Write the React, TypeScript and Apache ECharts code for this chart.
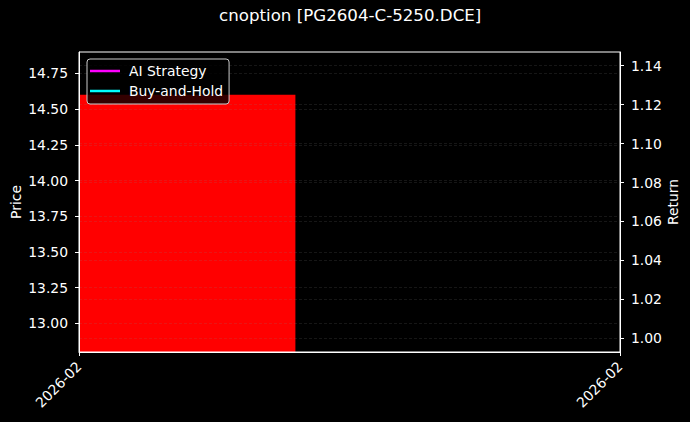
import { useEffect, useRef } from 'react'
import * as echarts from 'echarts'

const title = 'cnoption [PG2604-C-5250.DCE]'
const priceTicks = [13.0, 13.25, 13.5, 13.75, 14.0, 14.25, 14.5, 14.75]
const returnTicks = [1.0, 1.02, 1.04, 1.06, 1.08, 1.1, 1.12, 1.14]
const priceRange = [12.8, 14.9]
const returnRange = [0.993, 1.147]
const datePositions = [0, 1]
const dateLabels = ['2026-02', '2026-02']
const barStarts = [0]
const barEnds = [0.4]
const barValues = [14.6]
const lineNames = ['AI Strategy', 'Buy-and-Hold']
const lineColors = ['#ff00ff', '#00ffff']

const font = 'DejaVu Sans'
const fs = 13.9
const gridLine = {
  show: true,
  lineStyle: { color: 'rgba(128,128,128,0.25)', type: [3, 2] as number[], width: 0.7 },
}

export default function App() {
  const ref = useRef<HTMLDivElement | null>(null)

  useEffect(() => {
    if (!ref.current) {
      return
    }
    const chart = echarts.init(ref.current, undefined, { renderer: 'svg' })

    const yAxisBase = {
      type: 'value' as const,
      nameLocation: 'middle' as const,
      nameRotate: 90,
      nameMoveOverlap: false,
      nameTextStyle: { color: '#fff', fontFamily: font, fontSize: fs },
      axisLine: { show: true, lineStyle: { color: '#fff', width: 1 } },
      axisTick: { show: true, length: 4, lineStyle: { color: '#fff' } },
      splitLine: gridLine,
    }

    chart.setOption({
      animation: false,
      backgroundColor: '#000',
      textStyle: { fontFamily: font },
      title: {
        text: title,
        left: 219,
        top: 7,
        padding: 0,
        textStyle: { color: '#fff', fontFamily: font, fontSize: 16.67, fontWeight: 'normal' },
      },
      grid: {
        left: 79,
        right: 70,
        top: 52,
        bottom: 70,
        outerBoundsMode: 'none',
        show: true,
        borderColor: '#fff',
        borderWidth: 1,
        backgroundColor: 'transparent',
      },
      legend: {
        data: lineNames,
        orient: 'vertical',
        left: 87,
        top: 59,
        icon: 'rect',
        itemWidth: 30,
        itemHeight: 2.5,
        itemGap: 6,
        padding: [5, 6, 6, 3],
        backgroundColor: 'rgba(0,0,0,0.8)',
        borderColor: '#cccccc',
        borderWidth: 1,
        borderRadius: 3,
        textStyle: { color: '#fff', fontFamily: font, fontSize: fs, padding: [0, 0, 0, 4] },
      },
      xAxis: {
        type: 'value',
        min: datePositions[0],
        max: datePositions[datePositions.length - 1],
        axisLine: { show: true, lineStyle: { color: '#fff', width: 1 } },
        axisTick: { show: true, length: 4, customValues: datePositions, lineStyle: { color: '#fff' } },
        axisLabel: {
          customValues: datePositions,
          rotate: 45,
          margin: 12,
          color: '#fff',
          fontFamily: font,
          fontSize: fs,
          formatter: (v: number) => dateLabels[datePositions.indexOf(v)] ?? '',
        },
        splitLine: { show: false },
      },
      yAxis: [
        {
          ...yAxisBase,
          name: 'Price',
          nameGap: 56,
          position: 'left',
          min: priceRange[0],
          max: priceRange[1],
          axisTick: { ...yAxisBase.axisTick, customValues: priceTicks },
          axisLabel: {
            customValues: priceTicks,
            margin: 11,
            color: '#fff',
            fontFamily: font,
            fontSize: fs,
            formatter: (v: number) => v.toFixed(2),
          },
        },
        {
          ...yAxisBase,
          name: 'Return',
          nameGap: 46,
          position: 'right',
          min: returnRange[0],
          max: returnRange[1],
          axisTick: { ...yAxisBase.axisTick, customValues: returnTicks },
          axisLabel: {
            customValues: returnTicks,
            margin: 11,
            color: '#fff',
            fontFamily: font,
            fontSize: fs,
            formatter: (v: number) => v.toFixed(2),
          },
        },
      ],
      series: [
        {
          type: 'custom',
          name: 'price',
          yAxisIndex: 0,
          z: -1,
          encode: { x: [0, 1], y: 2 },
          data: barValues.map((v, i) => [barStarts[i], barEnds[i], v]),
          renderItem: (_params: unknown, api: any) => {
            const topLeft = api.coord([api.value(0), api.value(2)])
            const bottomRight = api.coord([api.value(1), priceRange[0]])
            return {
              type: 'rect',
              shape: {
                x: topLeft[0],
                y: topLeft[1],
                width: bottomRight[0] - topLeft[0],
                height: bottomRight[1] - topLeft[1],
              },
              style: { fill: '#ff0000' },
            }
          },
        },
        ...lineNames.map((name, i) => ({
          type: 'line',
          name,
          yAxisIndex: 1,
          data: [],
          showSymbol: false,
          color: lineColors[i],
          lineStyle: { color: lineColors[i], width: 2 },
        })),
      ],
    })

    return () => {
      chart.dispose()
    }
  }, [])

  return (
    <div
      ref={ref}
      style={{ position: 'fixed', left: 0, top: 0, width: 690, height: 422, background: '#000' }}
    />
  )
}
